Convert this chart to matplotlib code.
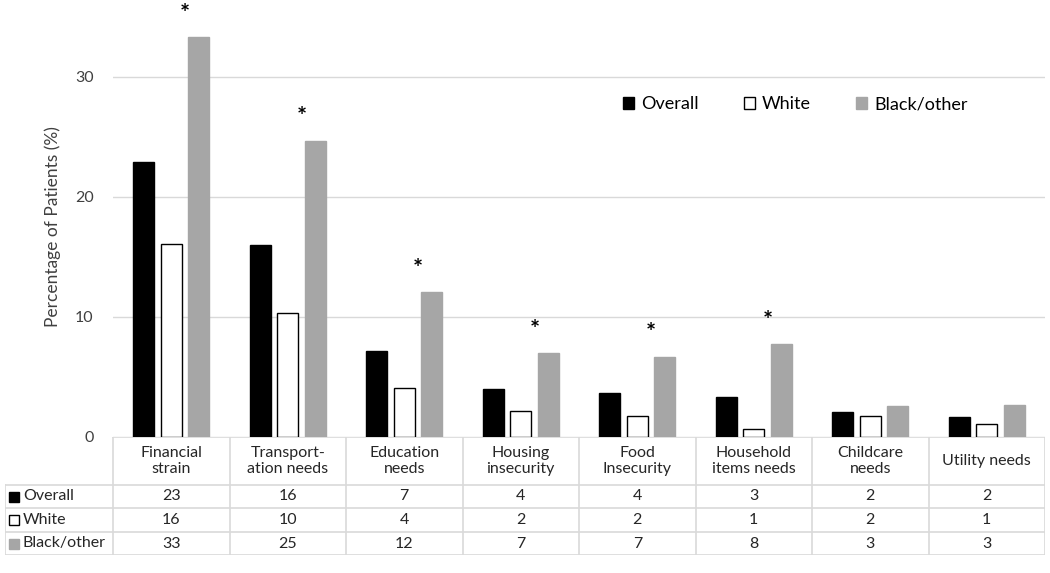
"""Social needs by race: grouped bar chart with data table underneath."""

import numpy as np
import matplotlib
matplotlib.use("Agg")
import matplotlib.pyplot as plt
from matplotlib.patches import Rectangle

plt.rcParams['font.family'] = ['Lato', 'DejaVu Sans']

categories = ['Financial\nstrain', 'Transport-\nation needs', 'Education\nneeds',
              'Housing\ninsecurity', 'Food\nInsecurity', 'Household\nitems needs',
              'Childcare\nneeds', 'Utility needs']
overall = [22.9, 16.0, 7.2, 4.0, 3.7, 3.3, 2.1, 1.7]
white = [16.1, 10.3, 4.1, 2.2, 1.75, 0.7, 1.75, 1.1]
black_other = [33.3, 24.7, 12.1, 7.0, 6.7, 7.75, 2.6, 2.7]
significant = [True, True, True, True, True, True, False, False]

series = [('Overall', overall, 'black', 'black'),
          ('White', white, 'white', 'black'),
          ('Black/other', black_other, '#a6a6a6', '#a6a6a6')]

W, H = 1050, 573
fig = plt.figure(figsize=(W / 100, H / 100), dpi=100)

# main plot area (pixel layout)
x0, x1, y0, ytop = 113, 1045, 437, 17
ax = fig.add_axes([x0 / W, 1 - y0 / H, (x1 - x0) / W, (y0 - ytop) / H])

n = len(categories)
x = np.arange(n)
bw, step = 0.18, 0.236
for k, (name, vals, fc, ec) in enumerate(series):
    ax.bar(x + (k - 1) * step, vals, width=bw, color=fc, edgecolor=ec,
           linewidth=1.0, label=name, zorder=3)

for i in range(n):
    if significant[i]:
        ax.text(x[i] + 0.12, black_other[i] + 1.9, '*', ha='center', va='center',
                fontsize=17, fontweight='bold')

ax.set_xlim(-0.5, n - 0.5)
ax.set_ylim(0, 35)
ax.set_yticks([0, 10, 20, 30])
ax.tick_params(axis='y', length=0, labelsize=11.5, colors='#404040', pad=14)
ax.set_xticks([])
ax.grid(axis='y', color='#d9d9d9', linewidth=1, zorder=0)
for s in ax.spines.values():
    s.set_visible(False)
ax.set_ylabel('Percentage of Patients (%)', fontsize=12.5, color='#404040', labelpad=10)

ax.legend(ncol=3, frameon=False, fontsize=13, loc='upper left',
          bbox_to_anchor=(0.53, 0.85), handlelength=0.6, handleheight=0.6,
          handletextpad=0.4, columnspacing=2.5)

# data table below the bars, drawn in pixel coordinates
tx0 = 5
tab = fig.add_axes([tx0 / W, 1 - 555 / H, (x1 - tx0) / W, (555 - y0) / H])
tab.set_xlim(tx0, x1)
tab.set_ylim(555, y0)
tab.axis('off')
line_c = '#d9d9d9'
cw = (x1 - x0) / n
rows = [437, 485, 508, 532, 555]

tab.plot([x0, x1], [437, 437], color=line_c, lw=1.2)
for r in rows[1:]:
    tab.plot([tx0, x1], [r, r], color=line_c, lw=1.2)
tab.plot([tx0, tx0], [485, 555], color=line_c, lw=1.2)
for i in range(n + 1):
    tab.plot([x0 + i * cw] * 2, [437, 555], color=line_c, lw=1.2)

for i, cat in enumerate(categories):
    cx = x0 + (i + 0.5) * cw
    tab.text(cx, 461, cat, ha='center', va='center', fontsize=11.5,
             color='#262626', linespacing=1.25)
    for j, (name, vals, fc, ec) in enumerate(series):
        cy = (rows[j + 1] + rows[j + 2]) / 2
        tab.text(cx, cy, f'{int(np.floor(vals[i] + 0.5))}', ha='center',
                 va='center', fontsize=11.5, color='#262626')

for j, (name, vals, fc, ec) in enumerate(series):
    cy = (rows[j + 1] + rows[j + 2]) / 2
    tab.add_patch(Rectangle((9, cy - 5), 10, 10, facecolor=fc, edgecolor=ec, lw=1))
    tab.text(23, cy, name, ha='left', va='center', fontsize=11.5, color='#262626')

fig.savefig('out.png', dpi=100)
